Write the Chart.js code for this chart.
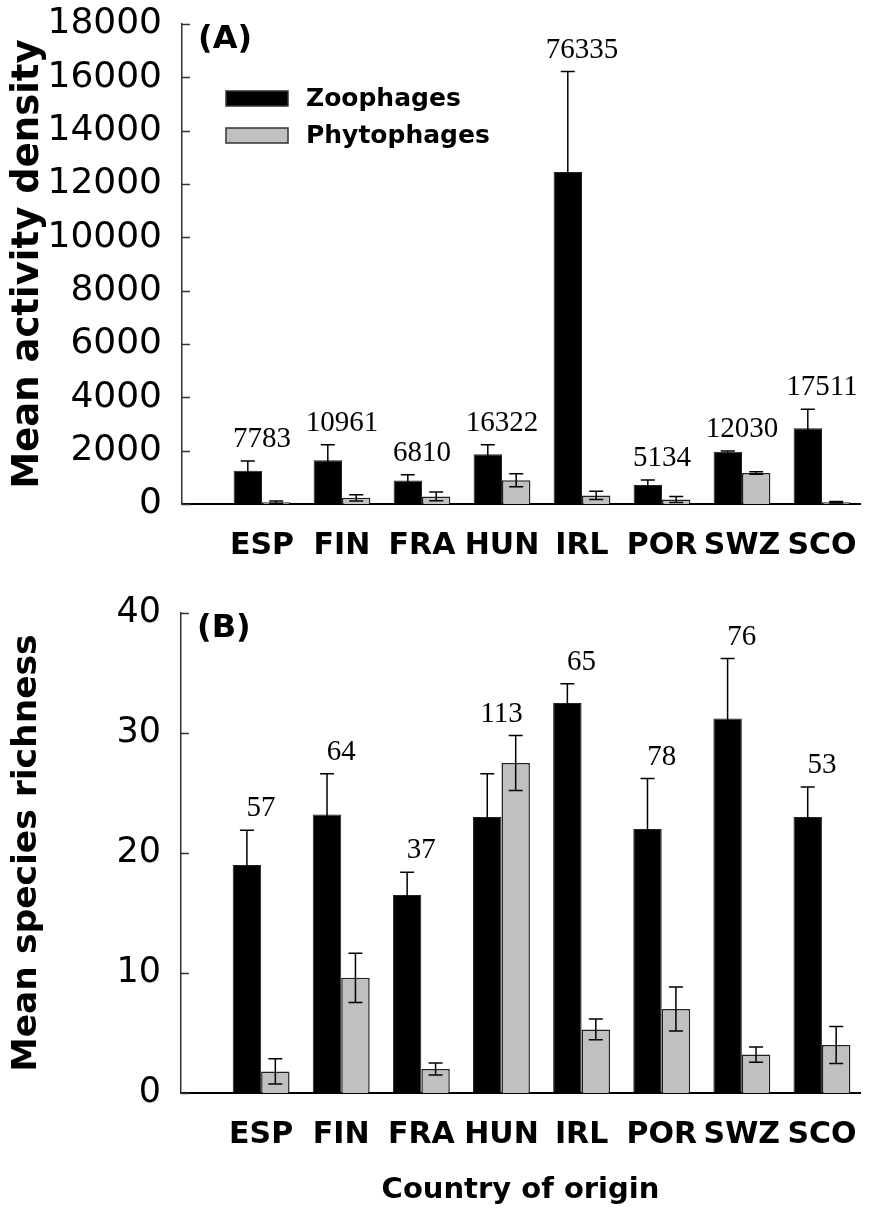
<!DOCTYPE html>
<html><head><meta charset="utf-8">
<script src="https://cdn.jsdelivr.net/npm/chart.js@4.4.1/dist/chart.umd.min.js"></script>
<style>
html,body{margin:0;padding:0;background:#fff;}
#wrap{position:relative;width:893px;height:1223px;overflow:hidden;background:#fff;}
#cA{position:absolute;left:0;top:0;}
#cB{position:absolute;left:0;top:590px;}
</style></head><body>
<div id="wrap"><canvas id="cA" width="893" height="590"></canvas><canvas id="cB" width="893" height="633"></canvas></div>
<script>
const countries = ['ESP','FIN','FRA','HUN','IRL','POR','SWZ','SCO'];
const seriesNames = ['Zoophages','Phytophages'];
// Panel A: mean activity density
const densityZoo   = [1250, 1640, 880, 1870, 12450, 710, 1960, 2840];
const densityZooSE = [360, 580, 220, 350, 3770, 190, 30, 710];
const densityPhy   = [65, 230, 285, 890, 320, 170, 1160, 65];
const densityPhySE = [50, 115, 165, 240, 155, 110, 45, 30];
const densityTotals = [7783, 10961, 6810, 16322, 76335, 5134, 12030, 17511];
const densityTicks = [0, 2000, 4000, 6000, 8000, 10000, 12000, 14000, 16000, 18000];
// Panel B: mean species richness
const richZoo   = [19.0, 23.2, 16.5, 23.0, 32.5, 22.0, 31.2, 23.0];
const richZooSE = [2.9, 3.4, 1.9, 3.6, 1.6, 4.2, 5.0, 2.5];
const richPhy   = [1.8, 9.6, 2.0, 27.5, 5.3, 7.0, 3.2, 4.0];
const richPhySE = [1.05, 2.05, 0.5, 2.3, 0.87, 1.83, 0.64, 1.55];
const richTotals = [57, 64, 37, 113, 65, 78, 76, 53];
const richTicks = [0, 10, 20, 30, 40];

const SANS = 'DejaVu Sans';

const extras = {
  id: 'extras',
  afterDatasetsDraw(chart, args, opts) {
    const ctx = chart.ctx;
    const ys = chart.scales.y;
    ctx.save();
    chart.data.datasets.forEach((ds, d) => {
      const meta = chart.getDatasetMeta(d);
      meta.data.forEach((el, i) => {
        const v = ds.data[i].y, se = ds.errors[i];
        const yt = ys.getPixelForValue(v + se);
        const yb = ys.getPixelForValue(Math.max(0, v - se));
        ctx.strokeStyle = '#000';
        ctx.lineWidth = 1.5;
        ctx.beginPath();
        ctx.moveTo(el.x, yt); ctx.lineTo(el.x, yb);
        ctx.moveTo(el.x - 7, yt); ctx.lineTo(el.x + 7, yt);
        if (d === 1) { ctx.moveTo(el.x - 7, yb); ctx.lineTo(el.x + 7, yb); }
        ctx.stroke();
      });
    });
    const m0 = chart.getDatasetMeta(0), m1 = chart.getDatasetMeta(1);
    const d0 = chart.data.datasets[0], d1 = chart.data.datasets[1];
    ctx.fillStyle = '#000';
    ctx.font = '29px "Liberation Serif"';
    ctx.textAlign = 'center';
    ctx.textBaseline = 'bottom';
    opts.totals.forEach((t, i) => {
      const top = Math.max(d0.data[i].y + d0.errors[i], d1.data[i].y + d1.errors[i]);
      const x = (m0.data[i].x + m1.data[i].x) / 2;
      ctx.fillText(String(t), x, ys.getPixelForValue(top) - 7);
    });
    ctx.restore();
  },
  afterDraw(chart, args, opts) {
    const ctx = chart.ctx;
    const ys = chart.scales.y;
    const ca = chart.chartArea;
    ctx.save();
    ctx.strokeStyle = '#333';
    ctx.lineWidth = 1.5;
    ys.ticks.forEach(t => {
      const py = Math.round(ys.getPixelForValue(t.value)) + 0.5;
      ctx.beginPath(); ctx.moveTo(ca.left, py); ctx.lineTo(ca.left + 8, py); ctx.stroke();
    });
    ctx.fillStyle = '#000';
    ctx.font = 'bold 32px "' + SANS + '"';
    ctx.textAlign = 'left';
    ctx.textBaseline = 'middle';
    ctx.fillText(opts.panel, ca.left + 16, ca.top + 16);
    if (opts.legend) {
      chart.data.datasets.forEach((ds, d) => {
        const bx = ca.left + 44, by = ca.top + 67 + d * 37;
        ctx.fillStyle = ds.backgroundColor;
        ctx.fillRect(bx, by, 62, 15);
        ctx.strokeStyle = '#333';
        ctx.lineWidth = 1.5;
        ctx.strokeRect(bx, by, 62, 15);
        ctx.fillStyle = '#000';
        ctx.font = 'bold 25px "' + SANS + '"';
        ctx.textBaseline = 'middle';
        ctx.fillText(ds.label, bx + 80, by + 8);
      });
    }
    ctx.restore();
  }
};

function makeChart(id, zoo, zooSE, phy, phySE, totals, ticks, yTitle, titleSize, tickSize, panel, legend, yWidth, xHeight, padTop, xTitle) {
  const pts = arr => arr.map((v, i) => ({ x: i + 1, y: v }));
  return new Chart(document.getElementById(id), {
    type: 'bar',
    data: {
      datasets: [
        { label: seriesNames[0], data: pts(zoo), errors: zooSE, backgroundColor: '#000000', borderColor: '#222', borderWidth: 1, categoryPercentage: 0.71, barPercentage: 1 },
        { label: seriesNames[1], data: pts(phy), errors: phySE, backgroundColor: '#c0c0c0', borderColor: '#222', borderWidth: 1.5, categoryPercentage: 0.71, barPercentage: 1 }
      ]
    },
    options: {
      responsive: false,
      animation: false,
      layout: { padding: { top: padTop, right: 33, left: 0, bottom: 0 } },
      plugins: {
        legend: { display: false },
        tooltip: { enabled: false },
        extras: { totals: totals, panel: panel, legend: legend }
      },
      scales: {
        x: {
          type: 'linear',
          offset: false,
          min: 0,
          max: 8.475,
          grid: { display: false, drawTicks: false },
          border: { display: true, color: '#000', width: 2 },
          ticks: {
            stepSize: 1,
            includeBounds: false,
            autoSkip: false,
            maxRotation: 0,
            padding: 24,
            color: '#000',
            font: { family: SANS, weight: 'bold', size: 30 },
            callback: v => (Number.isInteger(v) && v >= 1 && v <= countries.length) ? countries[v - 1] : ''
          },
          title: xTitle ? { display: true, text: xTitle, color: '#000', font: { family: SANS, weight: 'bold', size: 29 }, padding: { top: 0, bottom: 15 } } : { display: false },
          afterFit: s => { s.height = xHeight; s.paddingLeft = 0; s.paddingRight = 0; }
        },
        y: {
          min: ticks[0],
          max: ticks[ticks.length - 1],
          afterBuildTicks: s => { s.ticks = ticks.map(v => ({ value: v })); },
          grid: { display: false, drawTicks: false },
          border: { display: true, color: '#333', width: 1.5 },
          ticks: {
            padding: 20,
            color: '#000',
            font: { family: SANS, size: tickSize },
            callback: v => String(v)
          },
          title: { display: true, text: yTitle, color: '#000', font: { family: SANS, weight: 'bold', size: titleSize }, padding: { top: 6, bottom: 0 } },
          afterFit: s => { s.width = yWidth; s.paddingTop = 0; s.paddingBottom = 0; }
        }
      }
    },
    plugins: [extras]
  });
}

makeChart('cA', densityZoo, densityZooSE, densityPhy, densityPhySE, densityTotals, densityTicks,
  'Mean activity density', 37, 36, '(A)', true, 182, 86, 24, null);
makeChart('cB', richZoo, richZooSE, richPhy, richPhySE, richTotals, richTicks,
  'Mean species richness', 34.5, 35, '(B)', false, 181, 130, 23, 'Country of origin');
</script>
</body></html>
